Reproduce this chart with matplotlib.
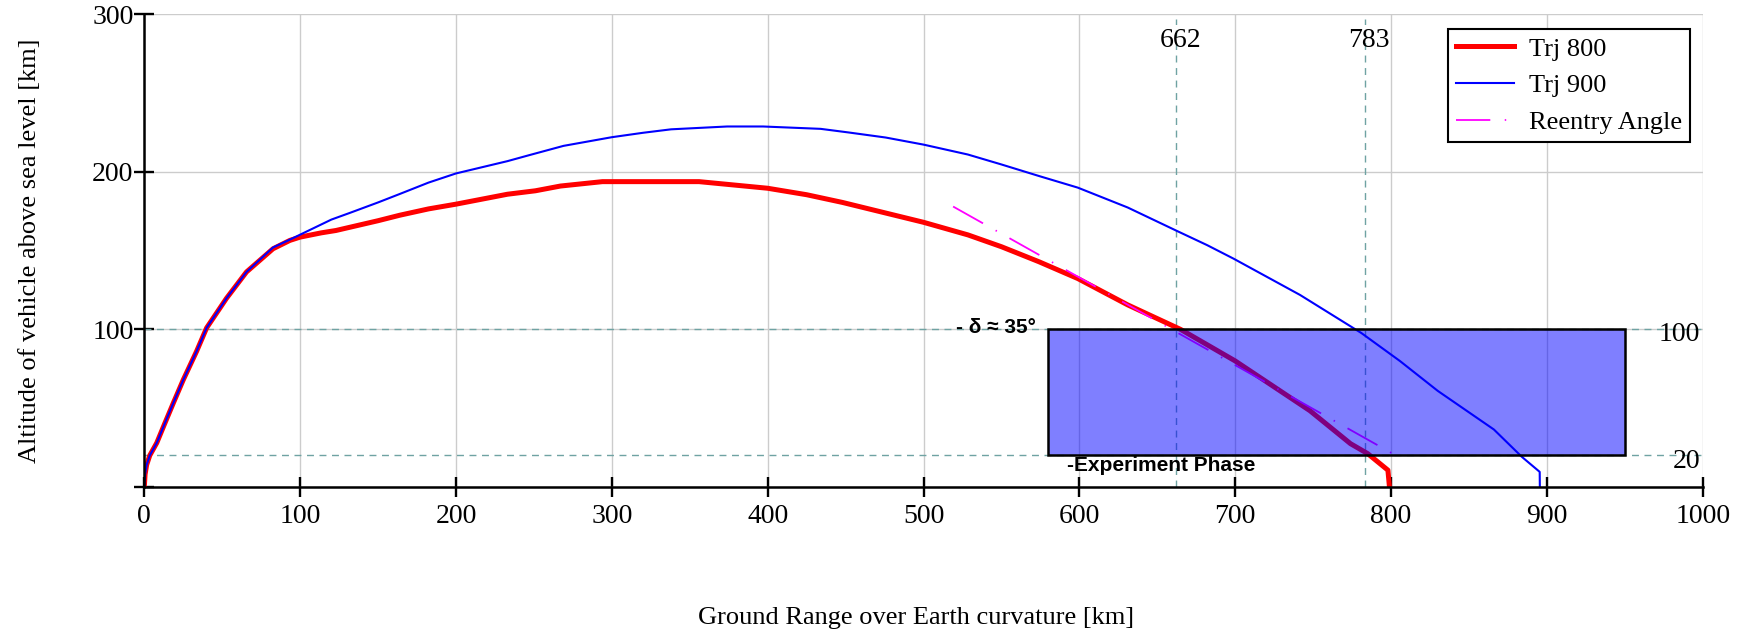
import matplotlib
matplotlib.use("Agg")
import matplotlib.pyplot as plt
from matplotlib.patches import Rectangle

# ---- data ----
trj800_x = [0, 0.5, 1.5, 3.5, 8, 13, 18.5, 25, 33.5, 40, 52.7, 65.6, 82.6, 93.4, 100, 113.6, 123,
            150, 164, 182.4, 200, 233, 251, 267, 294, 356, 400, 425, 448, 500, 528.5, 550, 574,
            599, 631, 665, 700, 748, 774, 785, 798, 799]
trj800_y = [0, 8, 14, 20, 28, 40, 53, 68, 86, 101, 119.7, 136.5, 151.2, 156.5, 158.6, 161.3, 162.8,
            169, 172.5, 176.5, 179.5, 185.8, 188, 191, 193.8, 193.8, 189.6, 185.5, 180.6, 168, 160,
            152.5, 143, 132.3, 115.6, 100, 80, 48.4, 27.5, 21.2, 10.7, 0]

trj900_x = [0, 0.5, 1.5, 3.5, 8, 13, 18.5, 25, 33.5, 40, 52.7, 65.6, 82.6, 93.4, 102.2, 120, 132,
            150, 164, 182.4, 200, 233, 246.6, 269, 300, 320, 338, 374, 397, 434, 452, 475.7, 500,
            528.5, 550, 574, 599, 631, 662, 682, 699, 741.6, 781, 805.8, 830, 866, 884, 895.4, 895.5]
trj900_y = [0, 8, 14, 20, 28, 40, 53, 68, 86, 101, 119.7, 136.5, 152, 157, 161.2, 169.7, 174,
            180.6, 186, 193.2, 199, 206.8, 210.5, 216.5, 222, 224.8, 227, 228.8, 228.8, 227.3, 225,
            221.8, 217.3, 211, 204.7, 197.4, 190, 177.4, 162.8, 153.5, 144.9, 121.9, 97.7, 79.9, 61,
            36.5, 19.1, 9.6, 0]

reentry_x = [519, 808]
reentry_y = [178, 17.3]

marker_x = [662, 783]          # vertical reference lines
marker_y = [100, 20]           # horizontal reference lines
phase_box = (580, 20, 950, 100)  # x0, y0, x1, y1

x_ticks = list(range(0, 1001, 100))
y_ticks = [0, 100, 200, 300]
y_ticklabels = ["", "100", "200", "300"]

# ---- styling ----
SERIF = "Liberation Serif"
SANS = "Liberation Sans"
FS = 20
LFS = 19
REF = "#6fa3a3"

fig = plt.figure(figsize=(17.44, 6.35), dpi=100)
ax = fig.add_axes([144.3 / 1744, (635 - 487) / 635, 1558.4 / 1744, 472.7 / 635])

ax.set_xlim(0, 1000)
ax.set_ylim(0, 300)

ax.set_xticks(x_ticks)
ax.set_yticks(y_ticks)
ax.set_yticklabels(y_ticklabels)
ax.grid(True, color="#cccccc", lw=1.0, zorder=0)
ax.set_axisbelow(True)

for s in ["top", "right"]:
    ax.spines[s].set_visible(False)
for s in ["left", "bottom"]:
    ax.spines[s].set_linewidth(1.8)
    ax.spines[s].set_color("black")
    ax.spines[s].set_zorder(6)

ax.tick_params(axis="both", direction="inout", length=14.4, width=1.7, colors="black",
               labelsize=FS)
ax.tick_params(axis="y", pad=0.5)
ax.tick_params(axis="x", pad=5)
for lab in ax.get_xticklabels() + ax.get_yticklabels():
    lab.set_family(SERIF)

# reference dashed lines
for yv in marker_y:
    ax.plot([0, 1000], [yv, yv], color=REF, lw=1.0, ls=(0, (5, 4)), zorder=2)
for xv in marker_x:
    ax.plot([xv, xv], [0, 297], color=REF, lw=1.0, ls=(0, (5, 4)), zorder=2)
    ax.text(xv + 3, 283.5, str(xv), family=SERIF, fontsize=FS, ha="center", va="center", zorder=3)

ax.text(998.5, 97, "100", family=SERIF, fontsize=FS, ha="right", va="center")
ax.text(998.5, 16, "20", family=SERIF, fontsize=FS, ha="right", va="center")

# trajectories
l1, = ax.plot(trj800_x, trj800_y, color="red", lw=3.6, solid_joinstyle="round", zorder=3,
              label="Trj 800")
l2, = ax.plot(trj900_x, trj900_y, color="blue", lw=1.5, zorder=4, label="Trj 900")
l3, = ax.plot(reentry_x, reentry_y, color="magenta", lw=1.3, ls=(0, (19, 8, 0.8, 8)), zorder=4,
              label="Reentry Angle")

# experiment phase box
x0, y0, x1, y1 = phase_box
ax.add_patch(Rectangle((x0, y0), x1 - x0, y1 - y0, facecolor=(0, 0, 1, 0.5),
                       edgecolor="black", lw=1.8, zorder=5))

ax.text(572, 101, "- δ ≈ 35°", family=SANS, fontweight="bold", fontsize=15,
        ha="right", va="center", zorder=6)
ax.text(592, 13.4, "-Experiment Phase", family=SANS, fontweight="bold", fontsize=15,
        ha="left", va="center", zorder=6)

leg = ax.legend(handles=[l1, l2, l3], loc="upper right",
                bbox_to_anchor=((1690 - 144.3) / 1558.4, (487 - 29.3) / 472.7),
                borderaxespad=0, fancybox=False, framealpha=1, edgecolor="black",
                prop={"family": SERIF, "size": LFS}, handlelength=2.2, handletextpad=0.55,
                labelspacing=0.5, borderpad=0.3)
leg.get_frame().set_linewidth(1.5)
leg.set_zorder(10)

ax.set_xlabel("Ground Range over Earth curvature [km]", family=SERIF, fontsize=LFS)
ax.xaxis.set_label_coords(0.495, -0.254)
ax.set_ylabel("Altitude of vehicle above sea level [km]", family=SERIF, fontsize=LFS)
ax.yaxis.set_label_coords(-0.0665, 0.5)

fig.savefig("out.png", dpi=100)
